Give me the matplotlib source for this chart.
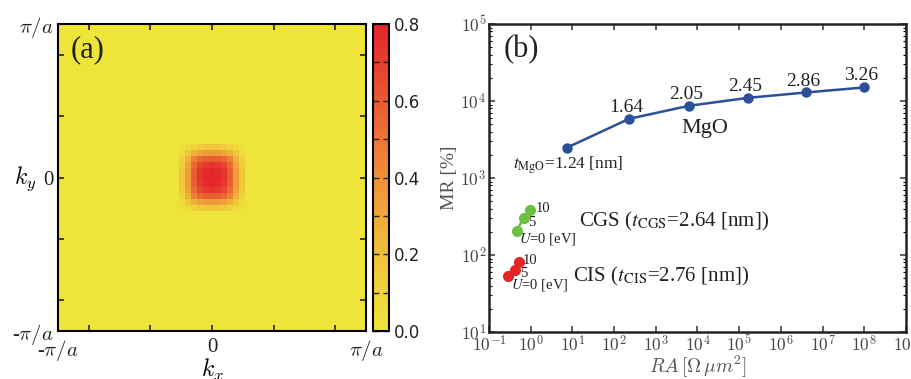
import numpy as np
import matplotlib
matplotlib.use("Agg")
import matplotlib.pyplot as plt
from matplotlib.colors import LinearSegmentedColormap
from matplotlib.ticker import FixedLocator, NullLocator, LogLocator, FuncFormatter

plt.rcParams['mathtext.fontset'] = 'cm'
plt.rcParams['font.family'] = ['Liberation Serif', 'DejaVu Serif']

# ---------------- data: panel (a) ----------------
grid_n = 51
background_level = 0.01
# central patch of the k-resolved map (11 x 11 cells)
blob_patch = [
    [0.03, 0.06, 0.10, 0.14, 0.16, 0.17, 0.16, 0.14, 0.10, 0.06, 0.03],
    [0.06, 0.16, 0.26, 0.32, 0.35, 0.36, 0.35, 0.32, 0.26, 0.16, 0.06],
    [0.10, 0.26, 0.45, 0.54, 0.58, 0.59, 0.58, 0.54, 0.45, 0.26, 0.10],
    [0.14, 0.32, 0.54, 0.67, 0.72, 0.74, 0.72, 0.67, 0.54, 0.32, 0.14],
    [0.16, 0.35, 0.58, 0.72, 0.77, 0.79, 0.77, 0.72, 0.58, 0.35, 0.16],
    [0.17, 0.36, 0.59, 0.74, 0.79, 0.80, 0.79, 0.74, 0.59, 0.36, 0.17],
    [0.16, 0.35, 0.58, 0.72, 0.77, 0.79, 0.77, 0.72, 0.58, 0.35, 0.16],
    [0.14, 0.32, 0.54, 0.67, 0.72, 0.74, 0.72, 0.67, 0.54, 0.32, 0.14],
    [0.10, 0.26, 0.45, 0.54, 0.58, 0.59, 0.58, 0.54, 0.45, 0.26, 0.10],
    [0.06, 0.16, 0.26, 0.32, 0.35, 0.36, 0.35, 0.32, 0.26, 0.16, 0.06],
    [0.03, 0.06, 0.10, 0.14, 0.16, 0.17, 0.16, 0.14, 0.10, 0.06, 0.03],
]
cbar_ticks = [0.0, 0.2, 0.4, 0.6, 0.8]
k_tick_labels = ['-$\\pi/a$', '', '', '0', '', '', '$\\pi/a$']

# ---------------- data: panel (b) ----------------
mgo_ra = [7.3, 231, 6300, 1.66e5, 4.0e6, 1.0e8]
mgo_mr = [2470, 5880, 8670, 11000, 12900, 15000]
mgo_t = ['1.24', '1.64', '2.05', '2.45', '2.86', '3.26']

cgs_ra = [0.46, 0.68, 0.98]
cgs_mr = [204, 306, 382]
cis_ra = [0.29, 0.41, 0.51]
cis_mr = [54, 64.6, 80.5]
u_labels = ['$U$=0 [eV]', '5', '10']

# ---------------- figure ----------------
fig = plt.figure(figsize=(9.12, 3.79), dpi=100)

ax1 = fig.add_axes([0.0636, 0.1266, 0.3377, 0.810])
cax = fig.add_axes([0.4090, 0.1266, 0.0175, 0.810])
ax2 = fig.add_axes([0.5362, 0.1240, 0.4572, 0.8127])

cmap = LinearSegmentedColormap.from_list(
    'yr', [(0.0, '#eee63a'), (0.25, '#f0c03a'), (0.5, '#ef9038'),
           (0.75, '#e95a32'), (1.0, '#e4242b')])

field = np.full((grid_n, grid_n), background_level)
patch = np.array(blob_patch)
c = grid_n // 2
h = patch.shape[0] // 2
field[c - h:c + h + 1, c - h:c + h + 1] = np.maximum(patch, background_level)

im = ax1.imshow(field, cmap=cmap, vmin=0, vmax=0.8, origin='lower',
                extent=[-1, 1, -1, 1], interpolation='nearest', aspect='auto')

ticks = [-1, -0.8, -0.4, 0, 0.4, 0.8, 1]
ax1.set_xticks(ticks)
ax1.set_yticks(ticks)
ax1.set_xticklabels(k_tick_labels, fontsize=15)
ax1.set_yticklabels(k_tick_labels, fontsize=15)
ax1.tick_params(direction='in', top=True, right=True, length=4, width=1.2,
                colors='#222222', pad=3)
ax1.tick_params(axis='x', pad=5)
for s in ax1.spines.values():
    s.set_linewidth(1.5)
ax1.set_xlabel('$k_x$', fontsize=17, labelpad=-4)
ax1.set_ylabel('$k_y$', fontsize=17, rotation=0, va='center')
ax1.yaxis.set_label_coords(-0.105, 0.495)
ax1.text(0.04, 0.965, '(a)', transform=ax1.transAxes, fontsize=22,
         ha='left', va='top', color='#222222')

cb = fig.colorbar(im, cax=cax)
cb.set_ticks(cbar_ticks)
cb.ax.yaxis.set_minor_locator(FixedLocator([0.1, 0.3, 0.5, 0.7]))
cb.ax.tick_params(which='both', direction='in', left=True, right=True,
                  length=4, width=1.0, labelsize=12, colors='#222222')
cb.ax.set_yticklabels([f'{t:.1f}' for t in cbar_ticks], family='DejaVu Sans')
cb.outline.set_linewidth(1.5)

# panel (b)
ax2.set_xscale('log')
ax2.set_yscale('log')
ax2.set_xlim(1e-1, 1e9)
ax2.set_ylim(1e1, 1e5)

blue = '#2b4f98'
green = '#6ec040'
red = '#e32626'

ax2.plot(mgo_ra, mgo_mr, '-o', color=blue, lw=1.8, ms=6.5, zorder=3)
ax2.plot(cgs_ra, cgs_mr, '-o', color=green, lw=1.8, ms=7, zorder=3)
ax2.plot(cis_ra, cis_mr, '-o', color=red, lw=1.8, ms=7, zorder=3)

for xv, yv, t in zip(mgo_ra[1:], mgo_mr[1:], mgo_t[1:]):
    ax2.annotate(t, (xv, yv), xytext=(-2, 5), textcoords='offset points',
                 ha='center', va='baseline', fontsize=14, color='#222222')
ax2.annotate('$t_{\\mathrm{MgO}}$=1.24 [nm]', (mgo_ra[0], mgo_mr[0]),
             xytext=(-39, -15), textcoords='offset points', ha='left',
             va='baseline', fontsize=12.5, color='#222222', math_fontfamily='stix')
ax2.text(10 ** 4.18, 10 ** 3.58, 'MgO', ha='center', va='baseline',
         fontsize=16, color='#222222')
ax2.text(10 ** 1.16, 10 ** 2.365, 'CGS ($t_{\\mathrm{CGS}}$=2.64 [nm])',
         ha='left', va='baseline', fontsize=15, color='#222222',
         math_fontfamily='stix')
ax2.text(10 ** 1.02, 10 ** 1.65, 'CIS ($t_{\\mathrm{CIS}}$=2.76 [nm])',
         ha='left', va='baseline', fontsize=15, color='#222222',
         math_fontfamily='stix')

cgs_offsets = [(2, -8), (3, -6), (4, -1)]
cis_offsets = [(2, -9), (4, -5), (3, -1)]
for xv, yv, lab, off in zip(cgs_ra, cgs_mr, u_labels, cgs_offsets):
    ax2.annotate(lab, (xv, yv), xytext=off, textcoords='offset points',
                 ha='left', va='baseline', fontsize=10.5, color='#222222',
                 math_fontfamily='stix')
for xv, yv, lab, off in zip(cis_ra, cis_mr, u_labels, cis_offsets):
    ax2.annotate(lab, (xv, yv), xytext=off, textcoords='offset points',
                 ha='left', va='baseline', fontsize=10.5, color='#222222',
                 math_fontfamily='stix')

ax2.text(0.034, 0.965, '(b)', transform=ax2.transAxes, fontsize=22,
         ha='left', va='top', color='#222222')

ax2.xaxis.set_major_locator(LogLocator(base=10, numticks=20))
ax2.xaxis.set_minor_locator(NullLocator())
ax2.yaxis.set_major_locator(LogLocator(base=10, numticks=10))
ax2.yaxis.set_minor_locator(LogLocator(base=10, subs=np.arange(2, 10), numticks=10))
fmt = FuncFormatter(lambda v, p: '$10^{%d}$' % int(round(np.log10(v))))
ax2.xaxis.set_major_formatter(fmt)
ax2.yaxis.set_major_formatter(fmt)
ax2.tick_params(which='major', direction='in', top=True, right=True,
                length=4, width=1.2, labelsize=12.5, colors='#444444', pad=2)
ax2.tick_params(which='minor', direction='in', top=True, right=True,
                length=2, width=0.8)
for s in ax2.spines.values():
    s.set_linewidth(1.8)
    s.set_color('#222222')
ax2.set_xlabel('$RA\\,[\\Omega\\,\\mu m^2]$', fontsize=14, color='#555555',
               labelpad=-1)
ax2.set_ylabel('MR [%]', fontsize=14, color='#555555', labelpad=2)

fig.savefig('out.png', dpi=100)
